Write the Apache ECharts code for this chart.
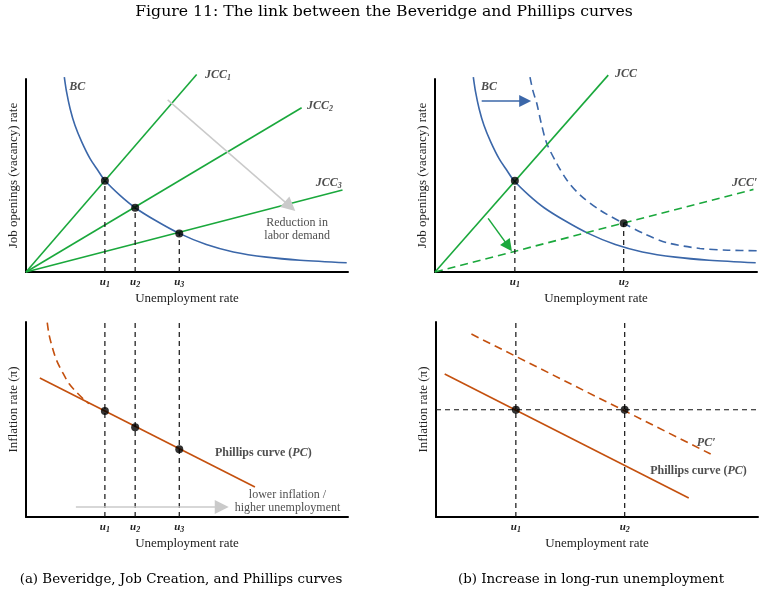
<!DOCTYPE html>
<html>
<head>
<meta charset="utf-8">
<title>Beveridge and Phillips curves</title>
<script src="https://cdn.jsdelivr.net/npm/echarts@6/dist/echarts.min.js"></script>
</head>
<body style="margin:0;background:#fff">
<div id="main" style="width:768px;height:603px;"></div>
<script type="text/javascript">
// values, every panel runs 0-100 on both axes

// (a) top: Beveridge curve and three job creation curves
var bcX = [11.9, 12.6, 13.7, 15.2, 17.3, 19.9, 22.3, 24.5, 29.2, 33.9, 40.1, 47.6, 56, 64.4, 74.7, 85.1, 99.6];
var bcY = [101, 93.3, 84.6, 76, 67.4, 58.7, 52.7, 47.4, 39.7, 33.3, 26.8, 20, 14.2, 10.4, 7.7, 6.1, 4.8];
var jcc1 = [[0, 0], [53, 102.3]];
var jcc2 = [[0, 0], [85.6, 85.1]];
var jcc3 = [[0, 0], [98.3, 42.5]];
var uA = [24.5, 33.9, 47.6];           // u1, u2, u3
var vacA = [47.3, 33.3, 20];           // vacancies at u1..u3

// (a) bottom: Phillips curve
var pcA = [[4.3, 71.3], [71.1, 15.4]];
var bendX = [6.6, 7.2, 8.3, 9.5, 11.3, 13.4, 15.7, 18.3, 19.6];
var bendY = [99.7, 93.2, 86.3, 80.3, 74.3, 68.3, 64, 59.8, 58.1];
var inflA = [54.4, 46, 34.8];

// (b) top: shift of BC, flatter JCC
var bcShiftX = [29.5, 30.4, 31.6, 33, 34.7, 37.8, 41, 45, 51.2, 58.6, 65, 72, 82.3, 91, 100];
var bcShiftY = [101, 94, 87.4, 77, 66.7, 56.3, 47.5, 40, 32.1, 25.2, 19.8, 15.2, 12.2, 11.3, 11];
var jccB = [[0, 0], [53.8, 102]];
var jccB2 = [[0, 0], [98.9, 42.8]];
var uB = [24.8, 58.6];
var vacB = [47.3, 25.2];

// (b) bottom: PC shifts up
var pcB = [[2.7, 73.3], [78.5, 9.7]];
var pcB2 = [[11, 93.8], [85.3, 32.3]];
var inflB = 55;

var SERIF = 'Liberation Serif';
var BLUE = '#3b67a9', GREEN = '#1aa83c', ORANGE = '#c4500e', GREY = '#cacaca';

var chart = echarts.init(document.getElementById('main'));

function zip(xs, ys) {
    return xs.map(function (x, k) { return [x, ys[k]]; });
}

var RICH = {
    ib: {fontFamily: SERIF, fontStyle: 'italic', fontWeight: 'bold', fontSize: 12, color: '#222'},
    b: {fontFamily: SERIF, fontWeight: 'bold', fontSize: 12, color: '#222'},
    sub: {fontFamily: SERIF, fontStyle: 'italic', fontWeight: 'bold', fontSize: 8, color: '#222', verticalAlign: 'bottom', padding: [6, 0, 0, 0]},
    u: {fontFamily: SERIF, fontStyle: 'italic', fontWeight: 'bold', fontSize: 11, color: '#222'}
};

function xAxis(i, ticks) {
    return {
        type: 'value', gridIndex: i, min: 0, max: 100,
        axisLine: {onZero: false, lineStyle: {color: '#000', width: 2}},
        axisTick: {show: false}, splitLine: {show: false},
        axisLabel: {
            customValues: ticks, margin: 3,
            formatter: function (v) { return '{u|u}{sub|' + (ticks.indexOf(v) + 1) + '}'; },
            rich: RICH
        },
        name: 'Unemployment rate', nameLocation: 'middle', nameGap: 20,
        nameTextStyle: {fontFamily: SERIF, fontSize: 13, color: '#222'}
    };
}
function yAxis(i, name, shift) {
    return {
        type: 'value', gridIndex: i, min: 0, max: 100,
        axisLine: {onZero: false, lineStyle: {color: '#000', width: 2}},
        axisTick: {show: false}, axisLabel: {show: false}, splitLine: {show: false},
        name: name, nameLocation: 'middle', nameGap: 6,
        nameTextStyle: {fontFamily: SERIF, fontSize: 13, color: '#222', padding: [0, 0, 0, shift || 0]}
    };
}

function line(i, pts, color, dashed, smooth) {
    return {
        type: 'line', xAxisIndex: i, yAxisIndex: i, data: pts,
        symbol: 'none', clip: false, silent: true, smooth: smooth || false,
        lineStyle: {color: color, width: 1.6, type: dashed ? [8, 5] : 'solid'}
    };
}
function guide(i, pts) {
    return {
        type: 'line', xAxisIndex: i, yAxisIndex: i, data: pts,
        symbol: 'none', silent: true,
        lineStyle: {color: '#111', width: 1.2, type: [5, 4]}
    };
}
function dots(i, pts) {
    return {
        type: 'scatter', xAxisIndex: i, yAxisIndex: i, data: pts,
        symbolSize: 8, itemStyle: {color: '#000'}, silent: true, z: 5
    };
}
function arrow(i, from, to, color, head) {
    return {
        type: 'line', xAxisIndex: i, yAxisIndex: i, data: [],
        symbol: 'none', silent: true,
        markLine: {
            silent: true, animation: false, symbol: ['none', 'triangle'], symbolSize: head,
            label: {show: false}, emphasis: {disabled: true},
            lineStyle: {color: color, type: 'solid', width: 1.5, opacity: 1},
            itemStyle: {color: color, opacity: 1},
            data: [[{coord: from}, {coord: to}]]
        }
    };
}
// [x, y, text, position]
function notes(i, items) {
    return {
        type: 'scatter', xAxisIndex: i, yAxisIndex: i, symbolSize: 0, silent: true, clip: false,
        data: items.map(function (n) {
            return {
                value: [n[0], n[1]],
                label: {
                    show: true, formatter: n[2], position: n[3] || 'right', distance: 0,
                    fontFamily: SERIF, fontSize: 12, lineHeight: 13, color: '#222', rich: RICH
                }
            };
        })
    };
}

var series = [
    // (a) top
    line(0, zip(bcX, bcY), BLUE, false, 0.3),
    line(0, jcc1, GREEN), line(0, jcc2, GREEN), line(0, jcc3, GREEN),
    guide(0, [[uA[0], 0], [uA[0], vacA[0]]]),
    guide(0, [[uA[1], 0], [uA[1], vacA[1]]]),
    guide(0, [[uA[2], 0], [uA[2], vacA[2]]]),
    arrow(0, [44, 89.2], [82, 34], GREY, 14),
    dots(0, zip(uA, vacA)),
    notes(0, [
        [13.4, 95.9, '{ib|BC}'],
        [55.6, 102, '{ib|JCC}{sub|1}'],
        [87.3, 86, '{ib|JCC}{sub|2}'],
        [90, 46, '{ib|JCC}{sub|3}'],
        [84.2, 22.3, 'Reduction in\nlabor demand', 'inside']
    ]),

    // (b) top
    line(1, zip(bcX, bcY), BLUE, false, 0.3),
    line(1, zip(bcShiftX, bcShiftY), BLUE, true, 0.3),
    line(1, jccB, GREEN),
    line(1, jccB2, GREEN, true),
    guide(1, [[uB[0], 0], [uB[0], vacB[0]]]),
    guide(1, [[uB[1], 0], [uB[1], vacB[1]]]),
    arrow(1, [14.5, 88.6], [28, 88.6], BLUE, 12),
    arrow(1, [16.5, 27.8], [22.8, 13.3], GREEN, 12),
    dots(1, zip(uB, vacB)),
    notes(1, [
        [14.3, 95.9, '{ib|BC}'],
        [55.9, 102.6, '{ib|JCC}'],
        [92.2, 46, '{ib|JCC′}']
    ]),

    // (a) bottom
    line(2, pcA, ORANGE),
    line(2, zip(bendX, bendY), ORANGE, true, 0.3),
    guide(2, [[uA[0], 0], [uA[0], 100]]),
    guide(2, [[uA[1], 0], [uA[1], 100]]),
    guide(2, [[uA[2], 0], [uA[2], 100]]),
    arrow(2, [15.5, 5.1], [60.8, 5.1], GREY, 14),
    dots(2, zip(uA, inflA)),
    notes(2, [
        [58.7, 32.8, '{b|Phillips curve (}{ib|PC}{b|)}'],
        [81.2, 7.8, 'lower inflation /\nhigher unemployment', 'inside']
    ]),

    // (b) bottom
    line(3, pcB, ORANGE),
    line(3, pcB2, ORANGE, true),
    guide(3, [[uB[0], 0], [uB[0], 100]]),
    guide(3, [[uB[1], 0], [uB[1], 100]]),
    guide(3, [[0, inflB], [100, inflB]]),
    dots(3, [[uB[0], inflB], [uB[1], inflB]]),
    notes(3, [
        [81, 38.1, '{ib|PC′}'],
        [66.5, 23.7, '{b|Phillips curve (}{ib|PC}{b|)}']
    ])
];

chart.setOption({
    animation: false,
    grid: [
        {left: 26, top: 79, width: 322, height: 193},
        {left: 435, top: 79, width: 322, height: 193},
        {left: 26, top: 322, width: 322, height: 195},
        {left: 436, top: 322, width: 322, height: 195}
    ],
    xAxis: [xAxis(0, uA), xAxis(1, uB), xAxis(2, uA), xAxis(3, uB)],
    yAxis: [
        yAxis(0, 'Job openings (vacancy) rate'),
        yAxis(1, 'Job openings (vacancy) rate'),
        yAxis(2, 'Inflation rate (π)', 20),
        yAxis(3, 'Inflation rate (π)', 20)
    ],
    series: series,
    graphic: [
        {type: 'text', x: 384, y: 12, style: {text: 'Figure 11: The link between the Beveridge and Phillips curves',
            fontFamily: 'DejaVu Serif', fontSize: 15.7, fill: '#000', align: 'center', verticalAlign: 'middle'}},
        {type: 'text', x: 181, y: 580, style: {text: '(a) Beveridge, Job Creation, and Phillips curves',
            fontFamily: 'DejaVu Serif', fontSize: 13.4, fill: '#000', align: 'center', verticalAlign: 'middle'}},
        {type: 'text', x: 591, y: 580, style: {text: '(b) Increase in long-run unemployment',
            fontFamily: 'DejaVu Serif', fontSize: 13.4, fill: '#000', align: 'center', verticalAlign: 'middle'}}
    ]
});
</script>
</body>
</html>
